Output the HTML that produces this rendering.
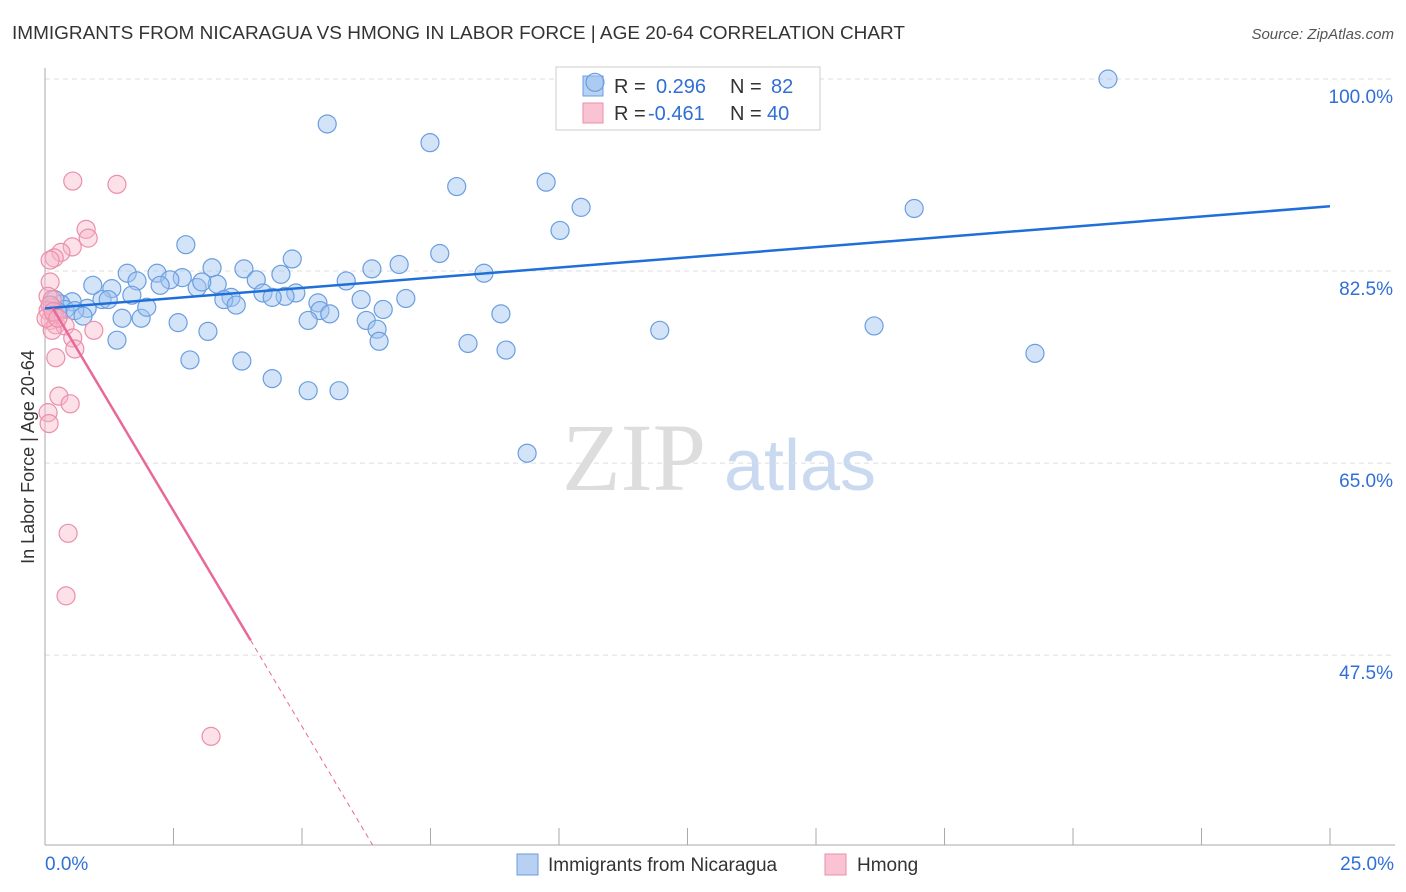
<!DOCTYPE html>
<html><head><meta charset="utf-8"><style>
body{margin:0;background:#fff;font-family:"Liberation Sans",sans-serif;}
svg{display:block}
</style></head><body>
<svg id="chart" width="1406" height="892">
<text x="12" y="39" font-size="18" fill="#333" textLength="893" lengthAdjust="spacingAndGlyphs">IMMIGRANTS FROM NICARAGUA VS HMONG IN LABOR FORCE | AGE 20-64 CORRELATION CHART</text>
<text x="1394" y="39" font-size="15" fill="#555" font-style="italic" text-anchor="end">Source: ZipAtlas.com</text>
<text x="34" y="457" font-size="18" fill="#333" text-anchor="middle" transform="rotate(-90 34 457)">In Labor Force | Age 20-64</text>
<g><text x="634" y="490" font-size="96" fill="#ddd" font-family="Liberation Serif,serif" text-anchor="middle">ZIP</text><text x="800" y="490" font-size="72" fill="#c9d9f0" text-anchor="middle">atlas</text></g>
<g id="grid"></g>
<g>
<rect x="556" y="67" width="264" height="63" fill="#fff" stroke="#ccc"/>
<rect x="583" y="76" width="20" height="20" fill="#b8d0f2" stroke="#6a9ee0"/>
<rect x="583" y="103" width="20" height="20" fill="#f9c3d3" stroke="#ec8eab"/>
<text y="93" font-size="20" fill="#333"><tspan x="614">R =</tspan><tspan x="656" fill="#2f6fd6">0.296</tspan><tspan x="730">N =</tspan><tspan x="771" fill="#2f6fd6">82</tspan></text>
<text y="120" font-size="20" fill="#333"><tspan x="614">R =</tspan><tspan x="648" fill="#2f6fd6">-0.461</tspan><tspan x="730">N =</tspan><tspan x="767" fill="#2f6fd6">40</tspan></text>
</g>
<g id="marks"></g>
<g>
<rect x="517" y="854" width="21" height="21" fill="#b8d0f2" stroke="#6a9ee0"/>
<text x="548" y="871" font-size="19" fill="#333">Immigrants from Nicaragua</text>
<rect x="825" y="854" width="21" height="21" fill="#f9c3d3" stroke="#ec8eab"/>
<text x="857" y="871" font-size="19" fill="#333">Hmong</text>
</g>
</svg>
<script>
const yTicks=[100,82.5,65,47.5];
const xTickLabels=["0.0%","25.0%"];
const blueX=[10.70,20.68,5.49,7.49,8.01,9.75,10.43,10.02,16.91,2.74,4.81,7.68,6.89,6.36,8.54,5.86,3.25,3.87,4.59,1.60,2.18,2.67,2.43,4.11,0.93,1.30,1.79,2.24,2.96,3.35,3.62,3.05,4.24,4.88,4.67,4.42,3.48,3.72,7.02,6.15,5.31,5.35,5.54,6.58,6.25,6.46,6.50,5.12,8.87,1.50,1.87,2.59,3.17,1.11,1.23,1.69,0.53,0.82,0.31,0.19,0.39,0.58,0.74,1.40,11.96,16.13,8.23,8.97,2.82,3.83,4.42,5.12,5.72,19.26,9.38,1.98,0.14,0.25];
const blueY=[99.7,100,95.9,94.2,90.2,90.6,88.3,86.2,88.2,84.9,83.6,84.1,83.1,82.7,82.3,81.6,82.8,82.7,82.2,82.3,82.3,81.9,81.7,81.7,81.2,80.9,81.6,81.2,81.0,81.3,80.1,81.5,80.5,80.5,80.2,80.1,79.9,79.4,80.0,79.9,79.6,78.9,78.6,79.0,78.0,77.2,76.1,78.0,78.6,78.2,78.2,77.8,77.0,79.9,79.9,80.3,79.7,79.1,79.5,79.9,79.0,78.9,78.4,76.2,77.1,77.5,75.9,75.3,74.4,74.3,72.7,71.6,71.6,75.0,65.9,79.2,79.2,78.8];
const pinkX=[0.54,1.40,0.80,0.84,0.53,0.31,0.18,0.10,0.10,0.06,0.14,0.06,0.19,0.10,0.21,0.39,0.14,0.95,0.54,0.58,0.21,0.27,0.49,0.06,0.08,0.45,0.41,3.23,0.10,0.02,0.16,0.25];
const pinkY=[90.7,90.4,86.3,85.5,84.7,84.2,83.7,83.5,81.5,80.2,79.9,78.9,78.5,78.0,77.6,77.5,77.1,77.1,76.4,75.4,74.6,71.1,70.4,69.6,68.6,58.6,52.9,40.1,79.4,78.2,78.8,78.2];
const blueTrend=[79.1,88.4]; // at x=0 and x=25
const pinkTrend=[80.3,-7.86]; // intercept, slope per %
const X0=45,X1=1330,Y0=845,Y1=79,yMin=30.2,yMax=100;
const sx=v=>X0+(v/25)*(X1-X0);
const sy=v=>Y0-(v-yMin)/(yMax-yMin)*(Y0-Y1);
const NS="http://www.w3.org/2000/svg";
function mk(t,a,p){const e=document.createElementNS(NS,t);for(const k in a)e.setAttribute(k,a[k]);p.appendChild(e);return e;}
const grid=document.getElementById('grid'),marks=document.getElementById('marks');
yTicks.forEach(v=>{
 const l=mk('line',{x1:45,x2:1395,y1:sy(v),y2:sy(v),stroke:'#ddd','stroke-dasharray':'5,4'},grid);
 
 
 const t=mk('text',{x:1393,y:sy(v)+24,'font-size':19,fill:'#2f6fd6','text-anchor':'end'},grid);
 t.textContent=v.toFixed(1)+'%';
 
 
});
const ya=mk('line',{x1:45,x2:45,y1:68,y2:845,stroke:'#aaa'},grid);


const xa=mk('line',{x1:45,x2:1395,y1:845,y2:845,stroke:'#aaa'},grid);


for(let i=0;i<=10;i++){const v=i*2.5;
 const tk=mk('line',{x1:sx(v),x2:sx(v),y1:828,y2:845,stroke:'#aaa'},grid);
 
 
}
[[0,'start',45],[25,'end',1394]].forEach((d,i)=>{
 const t=mk('text',{x:d[2],y:870,'font-size':19,fill:'#2f6fd6','text-anchor':d[1]},grid);
 t.textContent=xTickLabels[i];
 
 
});
blueX.forEach((x,i)=>{
 const c=mk('circle',{cx:sx(x),cy:sy(blueY[i]),r:9,fill:'rgba(160,195,240,0.45)',stroke:'#6a9ee0','stroke-width':1.2},marks);
 
 
});
pinkX.forEach((x,i)=>{
 const c=mk('circle',{cx:sx(x),cy:sy(pinkY[i]),r:9,fill:'rgba(248,180,200,0.4)',stroke:'#ec8eab','stroke-width':1.2},marks);
 
 
});
const bt=mk('line',{x1:sx(0),y1:sy(blueTrend[0]),x2:sx(25),y2:sy(blueTrend[1]),stroke:'#1f6fd8','stroke-width':2.5},marks);


const pf=v=>pinkTrend[0]+pinkTrend[1]*v;
const xEndSolid=4.0,xEnd=(yMin-pinkTrend[0])/pinkTrend[1];
const ps=mk('line',{x1:sx(0.15),y1:sy(pf(0.15)),x2:sx(xEndSolid),y2:sy(pf(xEndSolid)),stroke:'#e8689a','stroke-width':2.5},marks);


const pd=mk('line',{x1:sx(xEndSolid),y1:sy(pf(xEndSolid)),x2:sx(xEnd),y2:sy(pf(xEnd)),stroke:'#e8689a','stroke-width':1,'stroke-dasharray':'5,4'},marks);


</script>
</body></html>
